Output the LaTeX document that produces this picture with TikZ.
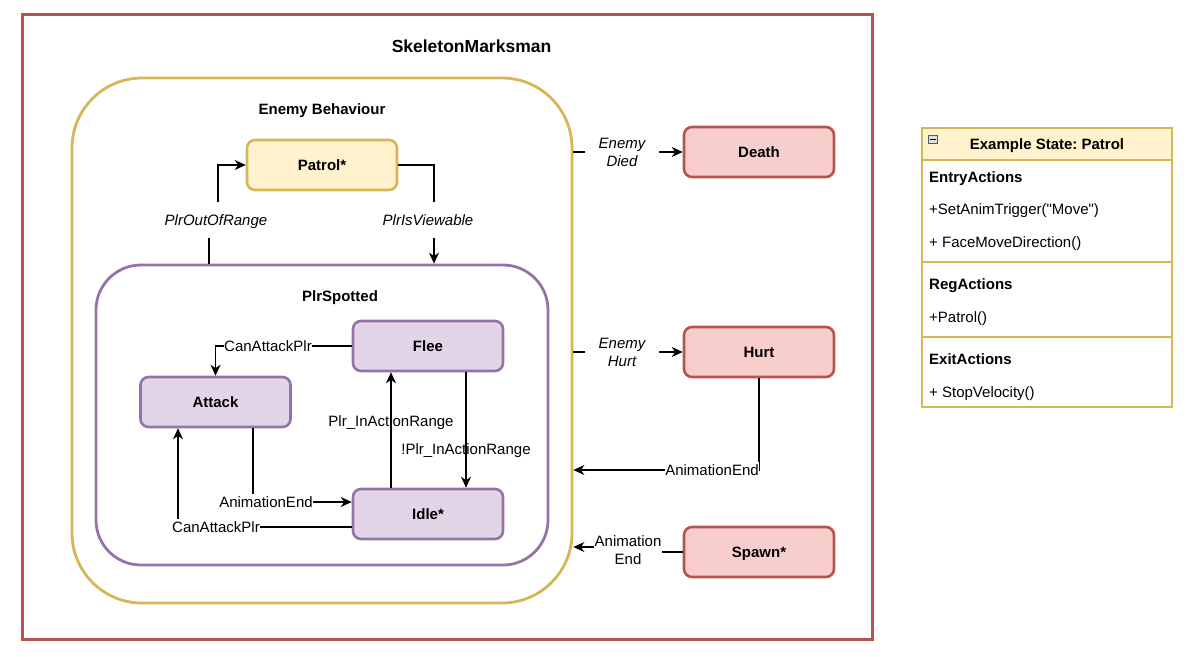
\documentclass[tikz,border=0pt]{standalone}
\usepackage{fontspec}
\setmainfont{Liberation Sans}
\newfontfamily\nolig{Liberation Sans}
\usetikzlibrary{arrows.meta}
\definecolor{redS}{HTML}{B85450}
\definecolor{redF}{HTML}{F8CECC}
\definecolor{yelS}{HTML}{D6B656}
\definecolor{yelF}{HTML}{FFF2CC}
\definecolor{purS}{HTML}{9673A6}
\definecolor{purF}{HTML}{E1D5E7}
\frenchspacing
\begin{document}
\begin{tikzpicture}[x=1pt,y=-1pt,
  font=\fontsize{15}{18}\selectfont,
  sl/.style={text height=10.8pt, text depth=0pt},
  bold/.style={font=\fontsize{15}{18}\selectfont\bfseries},
  box/.style={draw, rounded corners=8pt, line width=2.6pt, minimum width=150pt, minimum height=50pt, inner sep=0pt, bold, sl},
  patrolbox/.style={box, draw=yelS, fill=yelF},
  purbox/.style={box, draw=purS, fill=purF},
  redbox/.style={box, draw=redS, fill=redF},
  arr/.style={line width=1.2pt, -{Stealth[length=11pt,width=10pt,inset=3.5pt]}},
  lbl/.style={fill=white, inner sep=0.5pt, align=center},
  ilbl/.style={lbl, font=\fontsize{15}{18}\selectfont\itshape},
  txt/.style={anchor=west, inner sep=0pt, sl},
]
\useasboundingbox (0,0) rectangle (1191,656);
% containers
\node[draw=redS, line width=3pt, minimum width=850pt, minimum height=625pt, inner sep=0pt] (frame) at (447,326.5) {};
\node[draw=yelS, line width=2.8pt, rounded corners=70pt, minimum width=500pt, minimum height=525pt, inner sep=0pt] (behav) at (322,340.5) {};
\node[draw=purS, line width=2.8pt, rounded corners=45pt, minimum width=452pt, minimum height=300pt, inner sep=0pt] (spotted) at (322,415) {};
\node[font=\fontsize{17.5}{20}\selectfont\bfseries, text height=12.6pt, text depth=0pt] (title) at (471.5,46) {SkeletonMarksman};
\node[bold, sl] (behavlbl) at (322,109) {Enemy Behaviour};
\node[bold, sl] (spotlbl) at (340,296) {PlrSpotted};
% states
\node[patrolbox] (patrol) at (322,165) {Patrol*};
\node[purbox] (flee) at (428,346) {Flee};
\node[purbox] (attack) at (215.5,402) {Attack};
\node[purbox] (idle) at (428,514) {Idle*};
\node[redbox] (death) at (759,152) {Death};
\node[redbox] (hurt) at (759,352) {Hurt};
\node[redbox] (spawn) at (759,552) {Spawn*};
% outer edges
\draw[arr] (patrol.east) -| (434,0 |- spotted.north);
\node[ilbl, sl, inner ysep=13pt] (lview) at (428,220) {PlrIsViewable};
\draw[arr] (209,0 |- spotted.north) -- (209,220) -- (218,220) |- (patrol.west);
\node[ilbl, sl, inner ysep=13pt] (lout) at (216,220) {PlrOutOfRange};
\draw[arr] (behav.east |- death.west) -- (death.west);
\node[ilbl, inner xsep=14pt] (ldied) at (622,152) {Enemy\\Died};
\draw[arr] (behav.east |- hurt.west) -- (hurt.west);
\node[ilbl, inner xsep=14pt] (lhurt) at (622,352) {Enemy\\Hurt};
\draw[arr] (hurt.south) |- (behav.east |- 0,470);
\node[lbl, sl, inner ysep=3pt] (lhend) at (712,470) {AnimationEnd};
\draw[arr] (spawn.west) -- (628,552) -- (628,547) -- (behav.east |- 0,547);
\node[lbl] (lsend) at (628,550) {Animation\\End};
% inner edges
\draw[arr] (flee.west) -| (attack.north);
\node[lbl, sl, inner ysep=3pt] (lfa) at (268,346) {CanAttackPlr};
\draw[arr] (466,0 |- flee.south) -- (466,0 |- idle.north);
\node[inner sep=0pt, sl] (lfi) at (466,449) {!Plr\_InActionRange};
\draw[arr] (391,0 |- idle.north) -- (391,0 |- flee.south);
\node[inner sep=0pt, sl] (lif) at (391,421) {Plr\_InActionRange};
\draw[arr] (253,0 |- attack.south) |- (idle.west |- 0,502);
\node[lbl, sl, inner ysep=3pt] (lai) at (266,502) {AnimationEnd};
\draw[arr] (idle.west |- 0,527) -| (178,0 |- attack.south);
\node[lbl, sl, inner ysep=3pt] (lia) at (216,527) {CanAttackPlr};
% example state box
\node[draw=yelS, fill=yelF, line width=1.2pt, minimum width=250pt, minimum height=32pt, inner sep=0pt] (exhead) at (1047,144) {};
\node[draw=yelS, fill=white, line width=1.2pt, minimum width=250pt, minimum height=247pt, inner sep=0pt] (exbody) at (1047,283.5) {};
\node[bold, sl] (exttl) at (1047,144) {Example State: Patrol};
\node[draw=gray!70!black, fill=gray!25, line width=0.8pt, minimum width=9pt, minimum height=8pt, inner sep=0pt] (minus) at (933,139.5) {};
\draw[line width=1pt] ([xshift=2pt]minus.west) -- ([xshift=-2pt]minus.east);
\draw[yelS, line width=1.2pt] (exbody.west |- 0,262) -- (exbody.east |- 0,262);
\draw[yelS, line width=1.2pt] (exbody.west |- 0,337) -- (exbody.east |- 0,337);
\node[txt, bold] (t1) at (929,177) {EntryActions};
\node[txt] (t2) at (929,209) {\nolig +SetAnimTrigger("Move")};
\node[txt] (t3) at (929,242) {+ FaceMoveDirection()};
\node[txt, bold] (t4) at (929,284) {RegActions};
\node[txt] (t5) at (929,317) {+Patrol()};
\node[txt, bold] (t6) at (929,359) {ExitActions};
\node[txt] (t7) at (929,392) {+ StopVelocity()};
\end{tikzpicture}
\end{document}
